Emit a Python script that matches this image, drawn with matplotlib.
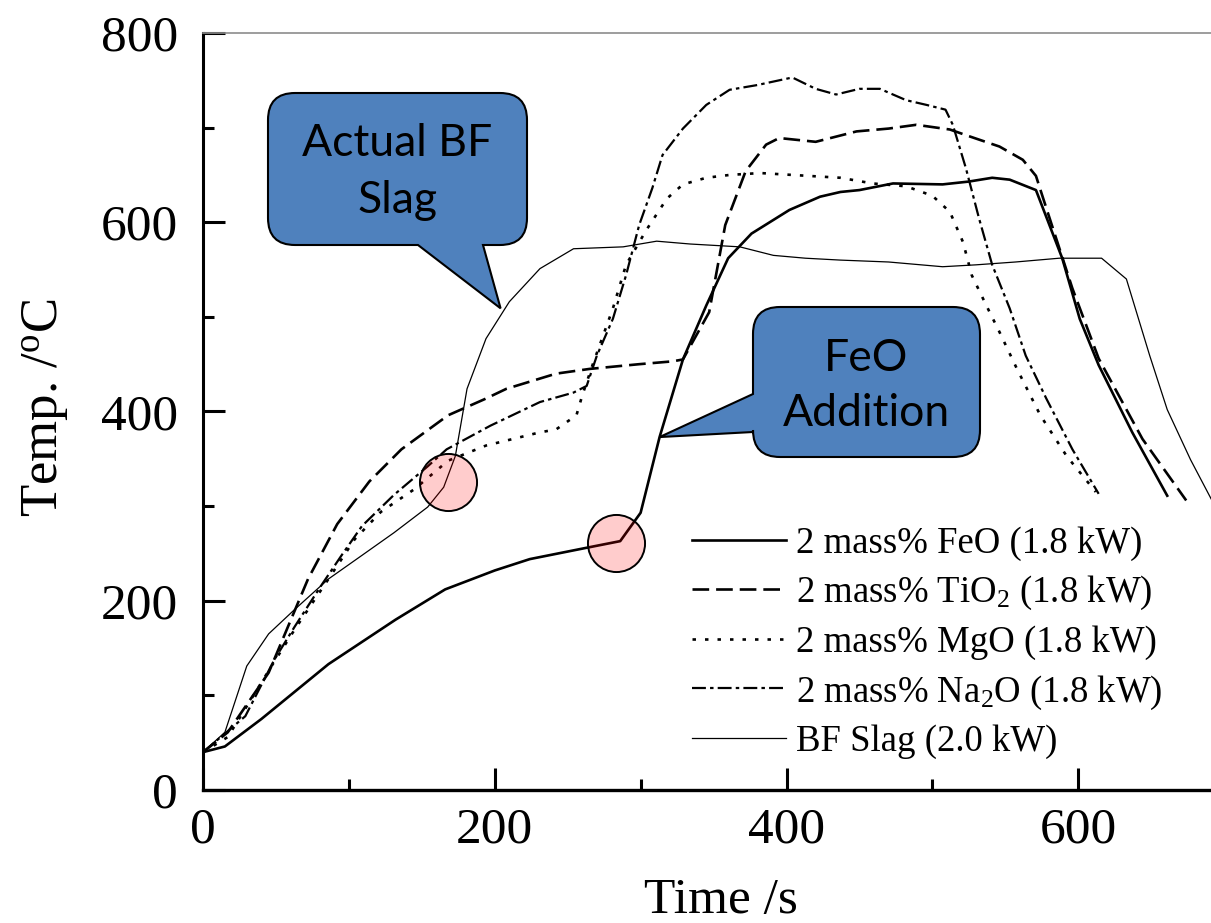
import matplotlib
matplotlib.use('Agg')
import matplotlib.pyplot as plt
from matplotlib.path import Path
from matplotlib.patches import PathPatch
from matplotlib.transforms import IdentityTransform
from matplotlib.ticker import MultipleLocator

plt.rcParams['font.family'] = 'Liberation Serif'
plt.rcParams['mathtext.fontset'] = 'custom'
plt.rcParams['mathtext.rm'] = 'Liberation Serif'
plt.rcParams['mathtext.it'] = 'Liberation Serif:italic'
plt.rcParams['lines.scale_dashes'] = False

# time (s) / temperature (deg C)
feo_t = [0, 15, 40, 86, 132, 166, 200, 224, 263, 286, 300, 313, 329, 345, 360, 376, 402, 423,
         437, 450, 473, 507, 525, 541, 553, 571, 589, 601, 614, 637, 661]
feo_y = [40, 46, 75, 133, 180, 212, 232, 244, 256, 263, 293, 373, 455, 512, 562, 588, 613, 627,
         632, 634, 641, 640, 643, 647, 645, 634, 562, 498, 449, 378, 311]

tio2_t = [0, 17, 45, 72, 92, 114, 136, 168, 193, 208, 242, 265, 299, 322, 329, 347, 358, 372,
          386, 395, 420, 448, 470, 489, 512, 525, 546, 562, 571, 576, 596, 614, 644, 674]
tio2_y = [40, 61, 124, 223, 281, 326, 360, 396, 413, 424, 440, 445, 450, 453, 455, 505, 597, 654,
          682, 689, 685, 696, 699, 703, 698, 691, 680, 666, 649, 625, 530, 456, 371, 306]

mgo_t = [0, 17, 47, 63, 86, 104, 122, 145, 168, 194, 231, 242, 256, 260, 267, 281, 290, 304,
         318, 329, 345, 361, 382, 404, 437, 459, 482, 500, 512, 521, 527, 537, 546, 558, 574,
         592, 612]
mgo_y = [40, 56, 131, 170, 223, 265, 294, 318, 348, 364, 378, 381, 396, 417, 449, 509, 555, 592,
         625, 640, 647, 650, 652, 650, 647, 641, 638, 628, 611, 579, 544, 512, 484, 445, 396,
         353, 315]

na2o_t = [0, 29, 49, 63, 81, 95, 109, 131, 154, 167, 197, 231, 254, 263, 270, 281, 290, 299,
          308, 315, 329, 345, 361, 380, 404, 420, 434, 450, 464, 482, 496, 509, 514, 523, 532,
          541, 553, 564, 578, 596, 614]
na2o_y = [40, 78, 138, 173, 216, 248, 279, 312, 342, 360, 385, 410, 420, 427, 459, 498, 544, 597,
          636, 671, 699, 724, 740, 745, 753, 741, 735, 741, 741, 729, 724, 719, 703, 657, 604,
          555, 509, 459, 414, 360, 313]

bf_t = [0, 15, 30, 45, 63, 86, 109, 131, 154, 165, 173, 181, 194, 210, 231, 254, 288, 311, 334,
        368, 391, 413, 437, 470, 507, 530, 557, 587, 616, 633, 649, 661, 677, 692]
bf_y = [40, 61, 131, 165, 191, 223, 248, 272, 299, 320, 353, 424, 477, 516, 551, 572, 574, 580,
        577, 574, 565, 562, 560, 558, 553, 555, 558, 562, 562, 540, 459, 402, 349, 305]

labels = ['2 mass% FeO (1.8 kW)',
          r'2 mass% TiO$_\mathregular{2}$ (1.8 kW)',
          '2 mass% MgO (1.8 kW)',
          r'2 mass% Na$_\mathregular{2}$O (1.8 kW)',
          'BF Slag (2.0 kW)']

W, H = 1211, 923
fig = plt.figure(figsize=(W / 100, H / 100), dpi=100)
ax = fig.add_axes([203 / W, (H - 790) / H, (W - 203) / W, (790 - 33) / H])

ax.plot(feo_t, feo_y, color='black', lw=1.9, label=labels[0])
ax.plot(tio2_t, tio2_y, color='black', lw=1.9, dashes=(12, 5), label=labels[1])
ax.plot(mgo_t, mgo_y, color='black', lw=1.9, dashes=(2.5, 6.5), label=labels[2])
ax.plot(na2o_t, na2o_y, color='black', lw=1.6, dashes=(10, 3, 2.5, 3), label=labels[3])
ax.plot(bf_t, bf_y, color='black', lw=0.9, label=labels[4])

# highlighted points where the additive goes in
ax.scatter([bf_t[9] + 3, feo_t[9] - 3], [bf_y[9] + 5, feo_y[9] - 2], s=1690,
           facecolor=(1, 0, 0, 0.2), edgecolor='black', linewidth=1.4, zorder=5)

ax.set_xlim(0, 691)
ax.set_ylim(0, 800)
ax.xaxis.set_major_locator(MultipleLocator(200))
ax.xaxis.set_minor_locator(MultipleLocator(100))
ax.yaxis.set_major_locator(MultipleLocator(200))
ax.yaxis.set_minor_locator(MultipleLocator(100))
ax.tick_params(which='both', direction='in', width=2.2, labelsize=37)
ax.tick_params(which='major', length=16)
ax.tick_params(which='minor', length=8)
ax.tick_params(axis='x', pad=12)
ax.tick_params(axis='y', pad=18)
ax.spines['left'].set_linewidth(2.2)
ax.spines['bottom'].set_linewidth(2.4)
ax.spines['top'].set_color('0.55')
ax.spines['top'].set_linewidth(1.2)
ax.spines['right'].set_visible(False)

fig.text(721 / W, 1 - 913 / H, 'Time /s', fontsize=37, ha='center', va='baseline')
fig.text(57 / W, 1 - 408 / H, r'Temp. /$^\mathregular{o}$C', fontsize=38, rotation=90,
         rotation_mode='anchor', ha='center', va='baseline')

ax.legend(loc='upper left', bbox_to_anchor=((692 - 203) / 1008, (790 - 526) / 757),
          frameon=False, fontsize=26.5, handlelength=2.55, handletextpad=0.27,
          labelspacing=0.36, borderpad=0, borderaxespad=0)


def callout(box, tip, side, base, lines, baselines):
    x0, x1, yt, yb = box
    r = 27
    Yt, Yb = H - yt, H - yb
    tx, ty = ax.transData.transform(tip)
    v = [(x0 + r, Yt), (x1 - r, Yt), (x1, Yt), (x1, Yt - r), (x1, Yb + r), (x1, Yb), (x1 - r, Yb)]
    c = [Path.MOVETO, Path.LINETO, Path.CURVE3, Path.CURVE3, Path.LINETO, Path.CURVE3, Path.CURVE3]
    if side == 'bottom':
        v += [(base[1], Yb), (tx, ty), (base[0], Yb)]
        c += [Path.LINETO] * 3
    v += [(x0 + r, Yb), (x0, Yb), (x0, Yb + r)]
    c += [Path.LINETO, Path.CURVE3, Path.CURVE3]
    if side == 'left':
        v += [(x0, H - base[1]), (tx, ty), (x0, H - base[0])]
        c += [Path.LINETO] * 3
    v += [(x0, Yt - r), (x0, Yt), (x0 + r, Yt), (x0 + r, Yt)]
    c += [Path.LINETO, Path.CURVE3, Path.CURVE3, Path.CLOSEPOLY]
    p = PathPatch(Path(v, c), facecolor='#4F81BD', edgecolor='black', lw=1.5,
                  transform=IdentityTransform(), zorder=6)
    fig.add_artist(p)
    for s, b in zip(lines, baselines):
        fig.text((x0 + x1) / 2 / W, 1 - b / H, s, family='Lato', fontsize=32,
                 ha='center', va='baseline', zorder=7)


callout((268, 527, 93, 245), (204, 509), 'bottom', (418, 483), ['Actual BF', 'Slag'], [156, 213])
callout((753, 980, 307, 457), (313, 373), 'left', (394, 432), ['FeO', 'Addition'], [371, 426])

fig.savefig('out.png', dpi=100)
